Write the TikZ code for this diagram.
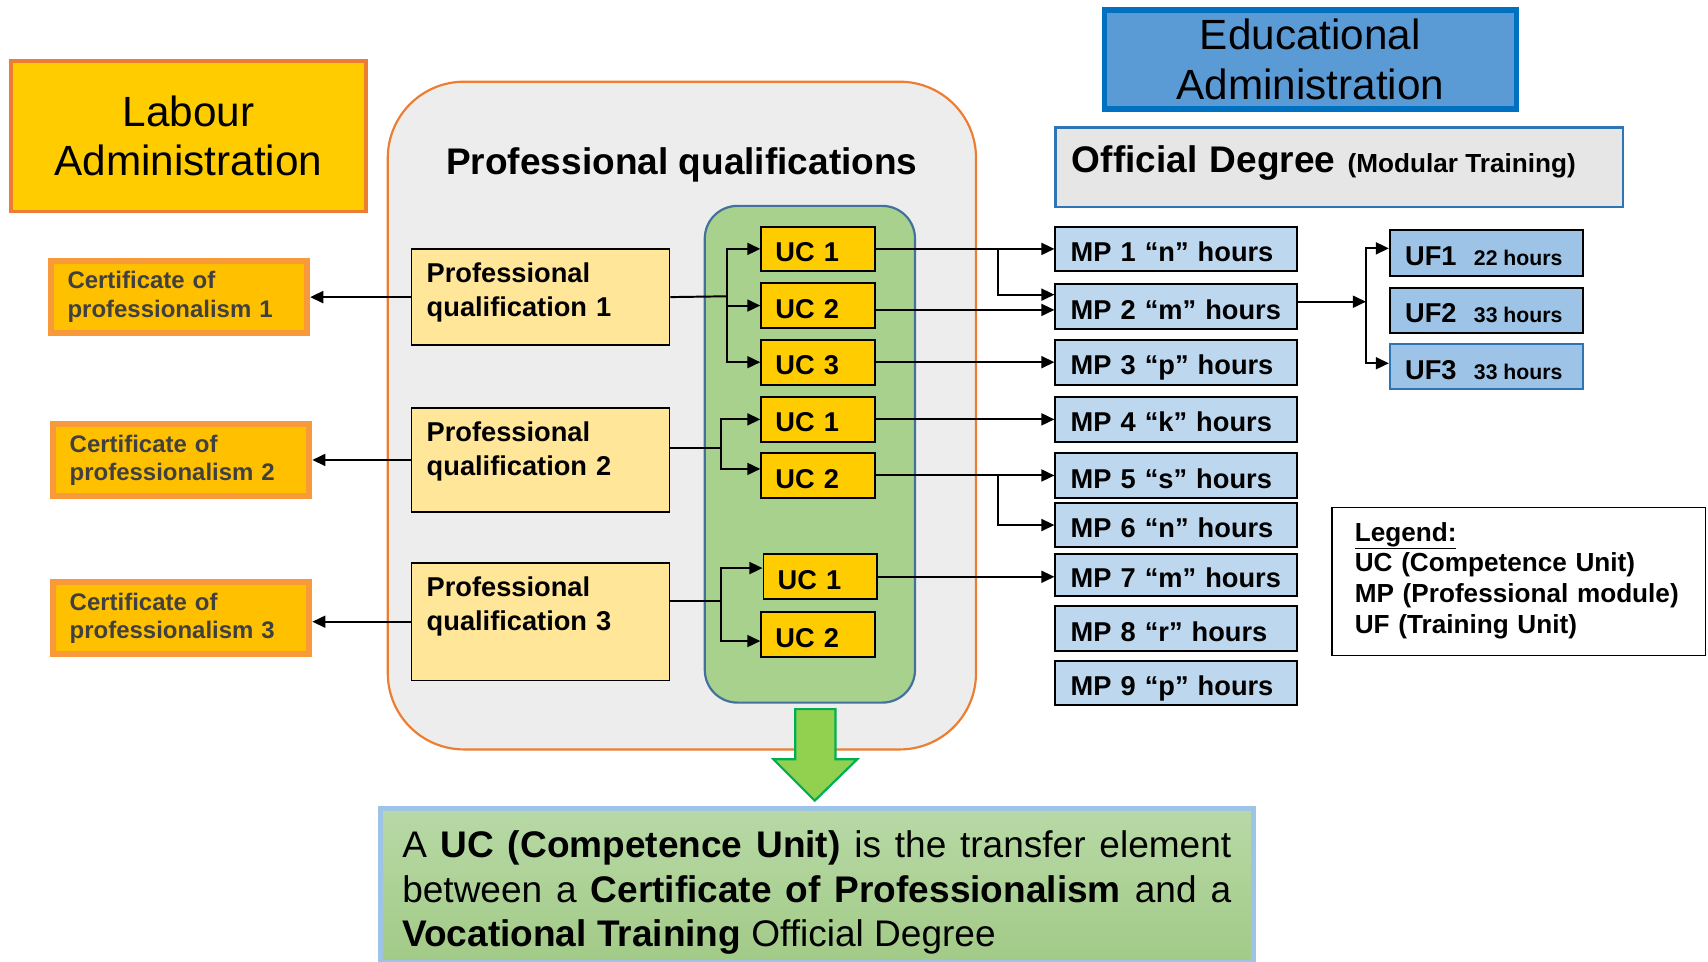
\documentclass[tikz,border=0pt]{standalone}
\usepackage{fontspec}
\setmainfont{Liberation Sans}
\usepackage{tikz}
\usetikzlibrary{arrows.meta}

\definecolor{labourfill}{HTML}{FFCC00}
\definecolor{labourline}{HTML}{ED7D31}
\definecolor{certfill}{HTML}{FFC000}
\definecolor{certline}{HTML}{F8993A}
\definecolor{certtext}{HTML}{404040}
\definecolor{pqfill}{HTML}{FFE699}
\definecolor{areafill}{HTML}{EDEDED}
\definecolor{arealine}{HTML}{ED7D31}
\definecolor{ucarea}{HTML}{A9D18E}
\definecolor{ucarealine}{HTML}{41719C}
\definecolor{ucfill}{HTML}{FFCC00}
\definecolor{edufill}{HTML}{5B9BD5}
\definecolor{eduline}{HTML}{0070C0}
\definecolor{degreefill}{HTML}{E7E6E6}
\definecolor{degreeline}{HTML}{2E75B6}
\definecolor{mpfill}{HTML}{BDD7EE}
\definecolor{uffill}{HTML}{9DC3E6}
\definecolor{noteline}{HTML}{9DC3E6}
\definecolor{notetop}{HTML}{B8D9A6}
\definecolor{notebottom}{HTML}{A2CA87}
\definecolor{arrowfill}{HTML}{92D050}
\definecolor{arrowline}{HTML}{00B050}

\tikzset{
  labourbox/.style = {draw = labourline, line width = 3pt, fill = labourfill, minimum width = 326pt, minimum height = 138pt, align = center, font = \fontsize{38.8}{45}\selectfont},
  edubox/.style = {draw = eduline, line width = 5pt, fill = edufill, minimum width = 378pt, minimum height = 91pt, align = center, font = \fontsize{38.8}{46}\selectfont},
  certbox/.style = {draw = certline, line width = 5.5pt, fill = certfill, text = certtext, minimum height = 66pt, text width = 205pt, inner xsep = 15pt, align = left, font = \bfseries\fontsize{22}{26}\selectfont},
  pqbox/.style = {draw, line width = 1.5pt, fill = pqfill, anchor = north west, inner xsep = 14pt, inner ysep = 0pt, text width = 209pt, text height = 31pt, align = left, font = \bfseries\fontsize{25}{31}\selectfont},
  ucbox/.style = {draw, line width = 1.8pt, fill = ucfill, anchor = west, minimum height = 41pt, text width = 78pt, inner xsep = 13pt, text height = 23pt, text depth = 0pt, align = left, font = \bfseries\fontsize{25}{30}\selectfont},
  mpbox/.style = {draw, line width = 1.8pt, fill = mpfill, anchor = west, minimum height = 41pt, text width = 194pt, inner xsep = 14pt, text height = 23pt, text depth = 0pt, align = left, font = \bfseries\fontsize{25}{30}\selectfont},
  ufbox/.style = {mpbox, fill = uffill, text width = 149pt, minimum height = 42pt},
  degreebox/.style = {draw = degreeline, line width = 2pt, fill = degreefill, anchor = north west, inner xsep = 15pt, inner ysep = 0pt, text width = 491pt, text height = 41pt, text depth = 32pt, align = left, font = \bfseries\fontsize{34}{40}\selectfont},
  legendbox/.style = {draw, line width = 1.5pt, fill = white, anchor = north west, inner xsep = 21pt, inner ysep = 0pt, text width = 301pt, text height = 31pt, text depth = 105pt, align = left, font = \bfseries\fontsize{24}{28.3}\selectfont},
  notebox/.style = {draw = noteline, line width = 4.6pt, top color = notetop, bottom color = notebottom, anchor = north west, inner xsep = 20pt, inner ysep = 0pt, text width = 761pt, text height = 45pt, text depth = 96pt, align = justify, font = \fontsize{34}{41}\selectfont}
}

\newcommand{\hourtext}[1]{{\fontsize{19.5}{22}\selectfont\spaceskip=0pt\relax #1}}

\begin{document}
\begin{tikzpicture}[x = 1pt, y = -1pt, line width = 1.8pt, >={Stealth[inset = 0pt, length = 12pt, width = 11pt]}]
\useasboundingbox (0, 0) rectangle (1568, 883);

\filldraw[fill = areafill, draw = arealine, line width = 2pt, rounded corners = 70pt] (356, 75) rectangle (896, 688);
\filldraw[fill = ucarea, draw = ucarealine, line width = 2pt, rounded corners = 30pt] (647, 189) rectangle (840, 645);
\filldraw[fill = arrowfill, draw = arrowline, line width = 2pt] (730, 651) -- (767, 651) -- (767, 697) -- (787, 697) -- (748, 735) -- (710, 697) -- (730, 697) -- cycle;

\node (labour) [labourbox] at (173, 125) {Labour\\Administration};
\node (edu) [edubox] at (1203, 54.5) {Educational\\Administration};
\node (pqtitle) [anchor = base, font = \bfseries\fontsize{34}{40}\selectfont] at (626, 160) {Professional qualifications};
\node (degree) [degreebox] at (968, 116) {Official Degree {\fontsize{24}{28}\selectfont\spaceskip=0pt\relax(Modular Training)}};

\node (cert1) [certbox] at (164.5, 272.5) {Certificate of\\professionalism 1};
\node (cert2) [certbox] at (166.5, 422.5) {Certificate of\\professionalism 2};
\node (cert3) [certbox] at (166.5, 567.5) {Certificate of\\professionalism 3};

\node (pq1) [pqbox, text depth = 57pt] at (377, 228) {Professional\\qualification 1};
\node (pq2) [pqbox, text depth = 64pt] at (377, 374) {Professional\\qualification 2};
\node (pq3) [pqbox, text depth = 77pt] at (377, 516) {Professional\\qualification 3};

\node (uc1a) [ucbox] at (698, 228.5) {UC 1};
\node (uc2a) [ucbox] at (698, 280.5) {UC 2};
\node (uc3a) [ucbox] at (698, 332.5) {UC 3};
\node (uc1b) [ucbox] at (698, 385) {UC 1};
\node (uc2b) [ucbox] at (698, 436.5) {UC 2};
\node (uc1c) [ucbox] at (700, 529.5) {UC 1};
\node (uc2c) [ucbox] at (698, 582.5) {UC 2};

\node (mp1) [mpbox] at (968, 228.5) {MP 1 “n” hours};
\node (mp2) [mpbox] at (968, 281.5) {MP 2 “m” hours};
\node (mp3) [mpbox] at (968, 332.5) {MP 3 “p” hours};
\node (mp4) [mpbox] at (968, 385) {MP 4 “k” hours};
\node (mp5) [mpbox] at (968, 436.5) {MP 5 “s” hours};
\node (mp6) [mpbox] at (968, 482) {MP 6 “n” hours};
\node (mp7) [mpbox, minimum height = 38pt] at (968, 528) {MP 7 “m” hours};
\node (mp8) [mpbox] at (968, 577) {MP 8 “r” hours};
\node (mp9) [mpbox] at (968, 627) {MP 9 “p” hours};

\node (uf1) [ufbox] at (1275, 232) {UF1\hspace{16pt}\hourtext{22 hours}};
\node (uf2) [ufbox] at (1275, 285) {UF2\hspace{16pt}\hourtext{33 hours}};
\node (uf3) [ufbox, draw = degreeline] at (1275, 336.5) {UF3\hspace{16pt}\hourtext{33 hours}};

\node (legend) [legendbox] at (1222, 465) {\underline{Legend:}\\UC (Competence Unit)\\MP (Professional module)\\UF (Training Unit)};

\node (note) [notebox] at (347, 740) {\hyphenpenalty=10000 A \textbf{UC (Competence Unit)} is the transfer element\linebreak between a \textbf{Certificate of Professionalism} and a\linebreak \textbf{Vocational Training} Official Degree};

\draw[->] (pq1.west) -- (pq1.west -| cert1.east);
\draw[->] (pq2.west) -- (pq2.west -| cert2.east);
\draw[->] (pq3.west) -- (pq3.west -| cert3.east);

\coordinate (split1) at (667, 272);
\coordinate (split2) at (661.5, 411);
\coordinate (split3) at (661.5, 552);
\draw (pq1.east) -- (split1);
\draw (pq2.east |- split2) -- (split2);
\draw (pq3.east |- split3) -- (split3);
\draw[->] (split1) |- (uc1a.west);
\draw[->] (split1) |- (uc2a.west);
\draw[->] (split1) |- (uc3a.west);
\draw[->] (split2) |- (uc1b.west);
\draw[->] (split2) |- ([yshift = 6pt]uc2b.west);
\draw[->] (split3) |- ([yshift = 8pt]uc1c.west);
\draw[->] (split3) |- ([yshift = -6pt]uc2c.west);

\coordinate (split4) at (916, 228.5);
\coordinate (split5) at (916, 436.5);
\coordinate (uc2aout) at ([yshift = -4pt]uc2a.east);
\draw[->] (uc1a.east) -- (uc1a.east -| mp1.west);
\draw[->] (split4) |- ([yshift = 11pt]mp2.west);
\draw[->] (uc2aout) -- (uc2aout -| mp2.west);
\draw[->] (uc3a.east) -- (uc3a.east -| mp3.west);
\draw[->] (uc1b.east) -- (uc1b.east -| mp4.west);
\draw[->] (uc2b.east) -- (uc2b.east -| mp5.west);
\draw[->] (split5) |- (mp6.west);
\draw[->] (uc1c.east) -- (uc1c.east -| mp7.west);

\coordinate (split6) at (1254, 277);
\draw[->] (mp2.east |- split6) -- (split6);
\draw[->] (split6) |- ([yshift = 4pt]uf1.west);
\draw[->] (split6) |- ([yshift = 3pt]uf3.west);

\end{tikzpicture}
\end{document}
